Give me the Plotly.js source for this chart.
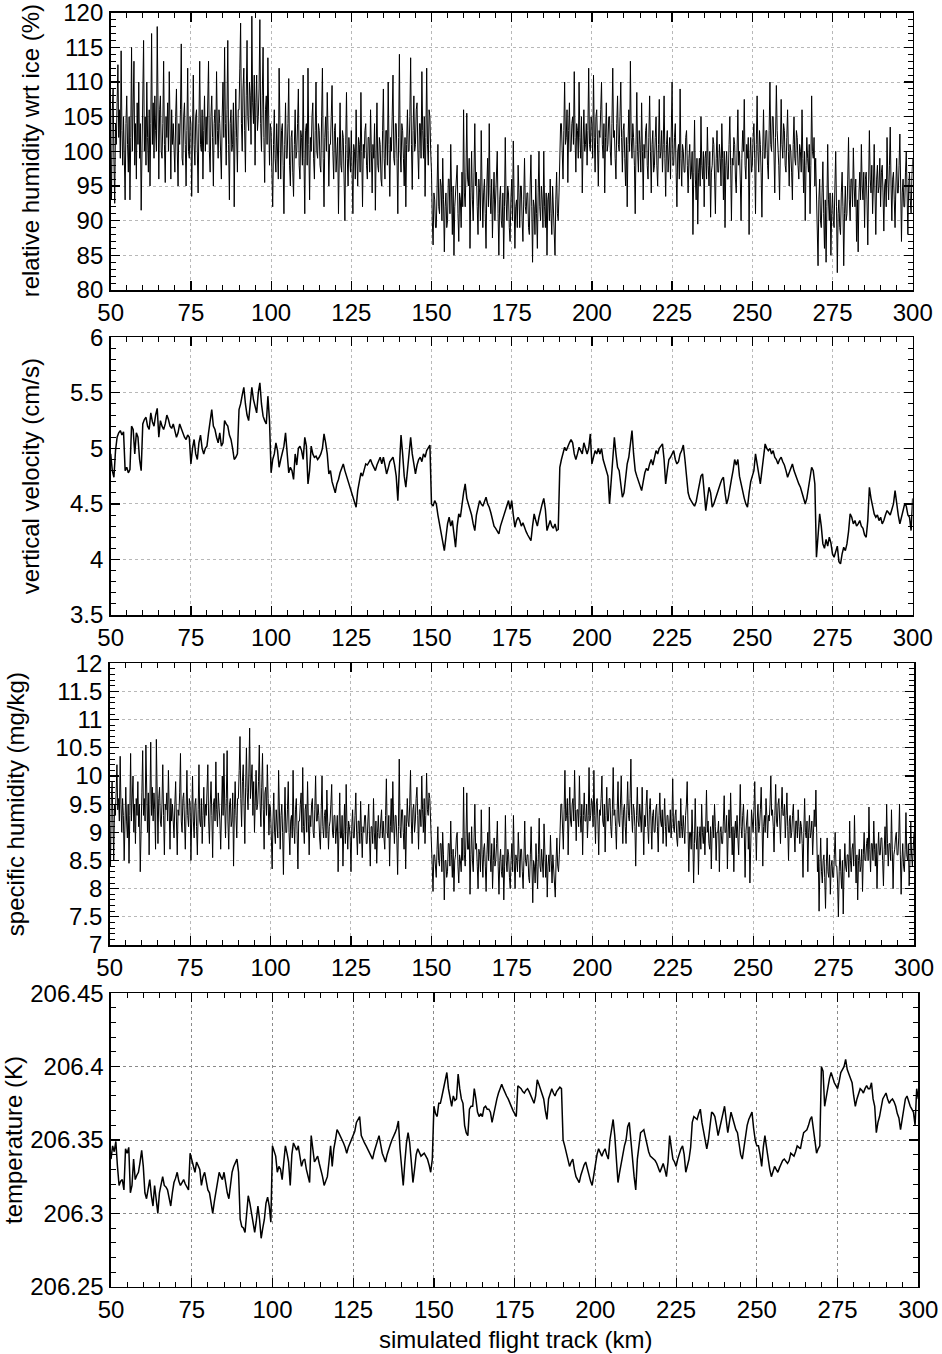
<!DOCTYPE html>
<html>
<head>
<meta charset="utf-8">
<script src="https://cdn.plot.ly/plotly-3.0.1.min.js"></script>
<style>
  html, body { margin: 0; padding: 0; background: #fff; }
  #plot { width: 942px; height: 1354px; }
</style>
</head>
<body>
<div id="plot"></div>
<script>
// flight track (km): the noisy humidity series are read every 0.25 km, the smooth ones every 0.5 km, from 50 to 300
const trackStart = 50;
const noisyStep = 0.25;
const smoothStep = 0.5;
const trackTicks = [50, 75, 100, 125, 150, 175, 200, 225, 250, 275, 300];

// relative humidity wrt ice (%)
const rhIce = [
  100, 93, 106, 109, 99, 92.5, 104, 101, 107, 112.5, 102, 106, 99, 114.5, 103, 98, 105, 100, 93, 104,
  108, 101, 97, 105, 93, 102, 115, 100, 106, 113, 98, 104, 96, 107, 101, 110, 99, 104, 91.5, 102,
  106, 116, 100, 105, 98, 110, 102, 97, 106, 95, 104, 117, 101, 107, 99, 108, 103, 100, 118, 104,
  96, 106, 108, 100, 99, 104, 113, 101, 95.5, 105, 102, 107, 100, 111.5, 103, 96, 106, 101, 104, 99,
  97, 105, 109, 100, 95, 104, 101, 106, 115.5, 99, 98, 105, 107, 101, 95, 103, 112, 100, 99, 105,
  104, 93.5, 102, 111, 101, 98, 105, 106, 100, 94, 104, 113, 101, 100, 106, 96, 103, 108, 100, 105,
  101, 108, 113, 100, 97, 105, 108, 102, 95, 104, 106, 101, 111.5, 103, 99, 106, 104, 100, 96, 105,
  110, 102, 115, 104, 98, 106, 116, 101, 93, 104, 106, 100, 101, 107, 92, 103, 109, 102, 97, 106,
  106, 112, 118.5, 104, 100, 109, 112, 103, 97, 108, 116, 105, 103, 110, 108, 101, 119.5, 107, 104, 111,
  98, 107, 111, 103, 105, 109, 119, 104, 100, 108, 115, 102, 95.5, 106, 108, 101, 113.5, 105, 98, 104,
  103, 97, 92, 101, 106, 99, 97, 104, 101, 96, 112, 100, 96, 103, 104, 98, 91, 101, 107, 99,
  99, 104, 110.5, 98, 95, 102, 103, 97, 93.5, 101, 106, 99, 100, 104, 109, 98, 96, 103, 102, 98,
  111, 99, 91, 103, 104, 98, 112, 101, 93, 102, 100, 105, 107, 99, 96, 103, 110, 100, 99, 104,
  103, 98, 97, 105, 112, 99, 92, 102, 105, 100, 108.5, 103, 95, 101, 101, 105, 109.5, 100, 96, 103,
  104, 97, 99, 102, 91, 100, 107, 98, 97, 103, 102, 96, 90, 101, 108.5, 99, 95, 102, 100, 97,
  103, 97, 91, 101, 100, 96, 106, 99, 95, 102, 101, 97, 108.5, 100, 92, 101, 99, 103, 104, 98,
  96, 102, 102, 97, 106, 100, 94, 101, 99, 104, 91.5, 100, 107, 98, 97, 102, 101, 96, 95, 103,
  109, 99, 96, 103, 103, 98, 110, 101, 93.5, 102, 100, 105, 111, 99, 98, 104, 104, 99, 91, 102,
  114, 100, 97, 104, 103, 99, 95, 102, 92, 101, 106, 100, 100, 105, 113.5, 101, 94.5, 103, 108, 100,
  101, 106, 107, 100, 96, 104, 104, 99, 111.5, 103, 99, 105, 93.5, 102, 112, 101, 98, 106, 105, 100,
  97, 90, 86.5, 94, 93, 89, 89, 95, 101, 92, 91, 96, 95, 90, 99, 93, 85.5, 92, 94, 89,
  90, 96, 96, 91, 101, 94, 88, 95, 85, 92, 94, 97, 98, 91, 87, 94, 93, 89, 97, 92,
  106, 94, 92, 97, 105.5, 96, 95, 99, 86, 94, 100, 93, 90, 97, 104, 95, 97, 92, 88, 96,
  94, 90, 103, 95, 89, 94, 96, 91, 86, 95, 99, 92, 104, 94, 91, 96, 87.5, 93, 97, 90,
  93, 96, 100, 91, 85, 93, 95, 90, 89, 94, 84.5, 92, 102, 93, 90, 95, 94, 89, 87, 93,
  96, 90, 101.5, 93, 86, 92, 93, 89, 98, 94, 89, 95, 95, 90, 87, 93, 99, 92, 91, 94,
  94, 89, 88, 95, 99.5, 92, 84, 93, 92, 88, 96, 91, 86, 94, 100, 92, 90, 95, 93, 89,
  100, 92, 89, 94, 85, 93, 94, 90, 96, 91, 88, 95, 92, 89, 85, 93, 97, 91, 90, 94,
  99, 104, 104, 100, 96, 103, 110, 101, 102, 106, 95.5, 103, 107, 100, 100, 104, 105, 101, 111.5, 102,
  97, 104, 103, 99, 110, 102, 99, 105, 94, 101, 106, 100, 101, 104, 98, 103, 112, 101, 100, 105,
  104, 99, 111, 102, 97, 105, 106, 101, 95, 103, 102, 106, 110, 101, 99, 104, 94, 102, 107, 100,
  101, 105, 105, 100, 98, 104, 112, 102, 103, 99, 96, 104, 108, 101, 100, 105, 110, 102, 97, 103,
  104, 99, 95, 102, 92, 101, 106, 100, 113, 102, 99, 104, 102, 98, 91, 101, 108.5, 100, 97, 103,
  101, 97, 107, 100, 93, 101, 99, 103, 104, 98, 96, 102, 108, 100, 94, 101, 103, 97, 98, 102,
  105, 98, 95, 101, 107.5, 99, 100, 103, 97, 101, 108, 99, 93.5, 101, 103, 97, 99, 102, 96, 101,
  110, 98, 98, 102, 104, 97, 92, 100, 101, 96, 109, 99, 95, 101, 100, 97, 97, 102, 103, 98,
  94, 99, 101, 96, 97, 100, 88, 97, 104.5, 96, 93, 99, 89.5, 97, 99, 95, 105, 98, 96, 100,
  92, 99, 100, 96, 103.5, 98, 95, 100, 90.5, 97, 98, 102, 101, 96, 91, 99, 103, 97, 97, 101,
  99, 95, 104, 99, 93, 100, 89, 98, 100, 96, 96, 101, 105, 98, 90, 99, 98, 102, 101, 96,
  94, 100, 106, 98, 100, 96, 90, 99, 103, 100, 107.5, 98, 96, 101, 99, 102, 88, 99, 102, 97,
  98, 102, 104, 99, 91, 101, 108, 100, 97, 103, 101, 97, 90.5, 100, 106, 99, 99, 103, 103, 98,
  96, 103, 110, 101, 100, 105, 105, 100, 94, 102, 109.5, 103, 101, 98, 93, 102, 107.5, 101, 99, 104,
  103, 98, 97, 102, 106, 100, 95, 101, 100, 97, 93, 101, 105, 99, 98, 103, 102, 98, 96, 101,
  100, 97, 106, 99, 94, 100, 90, 98, 102, 99, 97, 101, 91, 98, 108, 100, 99, 102, 95, 99,
  92, 88, 83.5, 93, 96, 90, 89, 94, 98.5, 91, 86, 93, 84, 92, 101, 93, 90, 94, 85, 91,
  94, 90, 89, 95, 100, 92, 82.5, 91, 93, 89, 88, 94, 97, 92, 83.5, 91, 95, 90, 91, 96,
  102, 93, 90, 96, 96, 92, 100.5, 95, 92, 96, 87, 93, 85.5, 94, 97, 93, 101, 95, 93, 97,
  89, 96, 97, 93, 86.5, 95, 103, 96, 94, 98, 91, 95, 101, 94, 88, 96, 98, 94, 95, 99,
  92, 97, 98, 94, 88.5, 95, 96, 92, 102, 96, 93, 98, 103.5, 95, 90, 96, 97, 93, 89, 95,
  99, 94, 94, 98, 102.5, 95, 87, 94, 96, 92, 92, 97, 100, 94, 88, 95, 97, 93, 91, 96,
  99
];

// vertical velocity (cm/s)
const vertVel = [
  4.95, 4.80, 4.74, 4.98, 5.10, 5.14, 5.16, 5.12, 5.15, 4.80,
  4.83, 4.78, 4.81, 5.20, 5.17, 4.95, 5.14, 5.10, 4.90, 4.80,
  5.22, 5.26, 5.28, 5.20, 5.17, 5.32, 5.24, 5.20, 5.30, 5.36,
  5.10, 5.25, 5.20, 5.17, 5.22, 5.30, 5.26, 5.20, 5.18, 5.22,
  5.16, 5.10, 5.14, 5.22, 5.18, 5.14, 5.10, 5.08, 5.12, 5.10,
  4.86, 5.00, 5.08, 4.95, 4.90, 5.05, 5.12, 5.00, 4.95, 5.00,
  5.02, 5.14, 5.25, 5.35, 5.20, 5.17, 5.10, 5.05, 5.14, 5.02,
  5.05, 5.25, 5.22, 5.20, 5.12, 5.08, 5.00, 4.90, 4.92, 4.95,
  5.35, 5.40, 5.48, 5.55, 5.40, 5.30, 5.25, 5.40, 5.55, 5.44,
  5.38, 5.32, 5.50, 5.59, 5.40, 5.29, 5.25, 5.22, 5.47, 5.25,
  4.78, 4.90, 4.95, 5.05, 4.98, 4.83, 4.90, 4.95, 5.02, 5.14,
  4.95, 4.78, 4.83, 4.80, 4.72, 4.95, 4.85, 5.00, 5.02, 4.98,
  4.90, 5.10, 5.02, 4.68, 4.80, 5.02, 4.95, 4.92, 4.93, 4.90,
  4.92, 4.95, 5.00, 5.13, 5.05, 4.95, 4.77, 4.80, 4.70, 4.65,
  4.60, 4.68, 4.72, 4.78, 4.82, 4.86, 4.80, 4.75, 4.72, 4.65,
  4.60, 4.55, 4.50, 4.47, 4.62, 4.72, 4.78, 4.75, 4.82, 4.86,
  4.85, 4.88, 4.90, 4.86, 4.83, 4.80, 4.85, 4.88, 4.92, 4.86,
  4.92, 4.85, 4.77, 4.82, 4.88, 4.90, 4.92, 4.85, 4.75, 4.53,
  4.90, 5.12, 4.95, 4.75, 4.65, 4.80, 4.95, 5.10, 4.95, 4.85,
  4.77, 4.85, 4.90, 4.92, 4.88, 4.95, 4.92, 4.98, 5.00, 5.03,
  4.50, 4.48, 4.53, 4.50, 4.40, 4.32, 4.25, 4.18, 4.08, 4.20,
  4.32, 4.38, 4.30, 4.35, 4.25, 4.11, 4.30, 4.41, 4.38, 4.50,
  4.60, 4.68, 4.55, 4.50, 4.45, 4.40, 4.32, 4.26, 4.40, 4.48,
  4.53, 4.50, 4.48, 4.52, 4.56, 4.50, 4.47, 4.42, 4.35, 4.30,
  4.28, 4.25, 4.23, 4.30, 4.35, 4.40, 4.45, 4.48, 4.53, 4.45,
  4.53, 4.40, 4.29, 4.35, 4.38, 4.35, 4.30, 4.33, 4.28, 4.25,
  4.22, 4.20, 4.17, 4.30, 4.41, 4.35, 4.30, 4.38, 4.45, 4.50,
  4.55, 4.45, 4.26, 4.30, 4.35, 4.30, 4.28, 4.32, 4.26, 4.27,
  4.83, 4.90, 4.95, 5.01, 4.98, 5.02, 5.05, 5.08, 5.05, 4.95,
  4.90, 4.95, 5.01, 4.98, 4.95, 5.05, 5.00, 4.95, 5.00, 5.13,
  4.86, 4.92, 4.98, 4.95, 5.00, 4.95, 5.00, 4.90, 4.85, 4.80,
  4.75, 4.50, 4.70, 4.90, 5.10, 4.95, 4.83, 4.80, 4.70, 4.56,
  4.60, 4.75, 4.86, 4.92, 5.05, 5.16, 4.95, 4.80, 4.75, 4.70,
  4.65, 4.62, 4.70, 4.78, 4.82, 4.80, 4.86, 4.90, 4.85, 4.92,
  4.98, 4.95, 5.00, 5.02, 5.04, 4.90, 4.68, 4.80, 4.90, 4.92,
  4.95, 4.98, 4.90, 4.86, 4.88, 4.95, 4.98, 5.03, 4.90, 4.77,
  4.60, 4.55, 4.52, 4.50, 4.48, 4.52, 4.60, 4.68, 4.75, 4.77,
  4.60, 4.44, 4.55, 4.65, 4.60, 4.47, 4.50, 4.55, 4.60, 4.65,
  4.68, 4.72, 4.74, 4.60, 4.50, 4.55, 4.65, 4.72, 4.80, 4.90,
  4.85, 4.90, 4.75, 4.68, 4.60, 4.55, 4.50, 4.47, 4.60, 4.70,
  4.75, 4.80, 4.95, 4.85, 4.75, 4.68, 4.80, 4.90, 5.04, 5.00,
  4.98, 5.00, 4.95, 4.98, 4.92, 4.90, 4.86, 4.90, 4.92, 4.88,
  4.85, 4.80, 4.74, 4.78, 4.82, 4.86, 4.80, 4.75, 4.72, 4.68,
  4.65, 4.60, 4.55, 4.50, 4.55, 4.65, 4.75, 4.83, 4.80, 4.68,
  4.02, 4.20, 4.41, 4.30, 4.14, 4.10, 4.18, 4.12, 4.20, 4.15,
  4.05, 4.02, 4.08, 4.12, 3.98, 3.96, 4.05, 4.11, 4.08, 4.14,
  4.25, 4.41, 4.38, 4.32, 4.35, 4.30, 4.32, 4.35, 4.30, 4.28,
  4.22, 4.20, 4.35, 4.65, 4.55, 4.48, 4.41, 4.38, 4.40, 4.35,
  4.38, 4.32, 4.35, 4.40, 4.44, 4.42, 4.40, 4.45, 4.50, 4.62,
  4.50, 4.40, 4.32, 4.38, 4.45, 4.50, 4.48, 4.40, 4.38, 4.26,
  4.55
];

// specific humidity (mg/kg)
const specHum = [
  9.1, 8.4, 9.6, 9.9, 9.2, 8.5, 9.5, 9.3, 9.7, 10.2, 9.4, 9.6, 9.2, 10.35, 9.5, 9.0, 9.6, 9.3, 8.5, 9.4,
  9.8, 9.2, 8.9, 9.5, 8.45, 9.3, 10.4, 9.2, 9.6, 10.0, 9.0, 9.5, 8.8, 9.6, 9.3, 9.9, 9.1, 9.5, 8.3, 9.4,
  9.7, 10.45, 9.3, 9.6, 9.2, 10.55, 9.4, 9.0, 9.7, 8.6, 9.5, 10.6, 9.3, 9.8, 9.2, 9.7, 9.4, 8.7, 10.65, 9.5,
  8.8, 9.6, 9.8, 9.2, 9.1, 9.5, 10.2, 9.3, 8.6, 9.5, 9.4, 9.7, 9.2, 10.1, 9.4, 8.7, 9.6, 9.2, 9.5, 9.1,
  8.9, 9.5, 9.9, 9.2, 8.6, 9.4, 9.3, 9.7, 10.4, 9.2, 9.0, 9.6, 9.7, 9.2, 8.7, 9.4, 10.1, 9.3, 9.1, 9.6,
  9.5, 8.5, 9.3, 10.0, 9.2, 8.9, 9.5, 9.6, 9.1, 8.6, 9.4, 10.2, 9.2, 9.1, 9.6, 8.8, 9.3, 9.8, 9.1, 9.5,
  9.3, 9.7, 10.2, 9.2, 8.8, 9.5, 9.9, 9.3, 8.55, 9.5, 9.6, 9.2, 10.25, 9.4, 9.1, 9.7, 9.5, 9.2, 8.7, 9.6,
  10.0, 9.3, 10.4, 9.5, 8.9, 9.6, 10.45, 9.2, 8.7, 9.5, 9.6, 9.1, 9.2, 9.7, 8.4, 9.4, 9.9, 9.3, 8.9, 9.6,
  9.6, 10.1, 10.7, 9.6, 9.1, 9.9, 10.2, 9.5, 8.8, 9.8, 10.5, 9.7, 9.4, 10.0, 10.85, 9.6, 9.9, 10.2, 9.3, 9.9,
  9.0, 9.7, 10.1, 9.4, 9.5, 9.9, 10.55, 9.5, 9.1, 9.8, 10.4, 9.4, 8.7, 9.7, 9.8, 9.3, 10.2, 9.6, 8.95, 9.5,
  9.4, 8.9, 8.35, 9.2, 9.7, 9.0, 8.8, 9.4, 9.2, 8.9, 10.1, 9.1, 8.7, 9.3, 9.5, 9.0, 8.25, 9.2, 9.8, 9.0,
  9.0, 9.4, 9.9, 9.0, 8.6, 9.2, 9.3, 8.9, 10.1, 9.1, 8.8, 9.4, 9.6, 9.0, 8.35, 9.2, 9.2, 9.5, 9.7, 9.0,
  10.15, 9.1, 8.8, 9.4, 9.5, 9.0, 9.9, 9.2, 8.6, 9.3, 9.1, 9.5, 9.6, 9.0, 8.9, 9.4, 10.0, 9.2, 9.2, 9.5,
  9.3, 8.9, 8.7, 9.4, 10.0, 9.1, 8.9, 9.3, 9.4, 8.9, 9.75, 9.2, 8.7, 9.1, 9.2, 9.5, 9.85, 9.0, 8.9, 9.3,
  9.3, 8.8, 9.0, 9.3, 8.3, 9.0, 9.7, 8.9, 8.9, 9.3, 8.4, 9.0, 9.5, 8.8, 9.85, 9.1, 8.7, 9.2, 9.1, 8.9,
  8.3, 9.1, 9.4, 8.9, 8.9, 9.3, 9.7, 9.0, 8.6, 9.2, 9.2, 8.8, 9.55, 9.0, 8.55, 9.1, 9.0, 9.3, 9.3, 8.8,
  8.8, 9.2, 9.5, 8.9, 8.4, 9.1, 9.1, 8.8, 9.6, 9.0, 8.7, 9.2, 8.45, 9.0, 9.3, 8.9, 8.9, 9.2, 9.4, 8.9,
  9.2, 8.9, 8.7, 9.3, 9.95, 9.0, 8.9, 9.3, 8.4, 9.1, 9.6, 9.0, 9.9, 9.2, 8.8, 9.3, 9.3, 8.9, 8.25, 9.1,
  10.3, 9.1, 8.9, 9.4, 9.4, 9.0, 8.7, 9.3, 8.35, 9.1, 9.6, 9.2, 9.1, 9.5, 10.1, 9.2, 8.8, 9.4, 9.5, 9.0,
  9.2, 9.6, 9.8, 9.3, 8.7, 9.4, 9.4, 9.1, 10.0, 9.4, 9.0, 9.6, 8.8, 9.3, 10.05, 9.4, 9.3, 9.7, 9.6, 9.2,
  8.9, 8.4, 7.95, 8.6, 8.6, 8.3, 8.2, 8.7, 9.1, 8.5, 8.4, 8.8, 8.8, 8.3, 9.0, 8.6, 7.8, 8.5, 8.5, 8.2,
  8.3, 8.8, 8.8, 8.4, 9.2, 8.6, 8.2, 8.7, 7.95, 8.5, 8.6, 8.9, 9.0, 8.4, 8.1, 8.6, 8.5, 8.3, 8.9, 8.5,
  9.8, 8.6, 8.4, 8.9, 9.7, 8.7, 8.7, 9.0, 7.9, 8.6, 9.1, 8.5, 8.3, 8.9, 9.5, 8.7, 8.8, 8.4, 8.0, 8.7,
  8.6, 8.3, 9.4, 8.6, 8.2, 8.7, 8.8, 8.4, 7.95, 8.6, 9.0, 8.5, 9.45, 8.6, 8.3, 8.8, 8.0, 8.5, 8.9, 8.4,
  8.5, 8.8, 9.2, 8.4, 7.9, 8.5, 8.7, 8.3, 8.2, 8.6, 7.8, 8.4, 9.3, 8.5, 8.3, 8.7, 8.6, 8.2, 8.0, 8.5,
  8.8, 8.3, 9.3, 8.5, 8.0, 8.6, 8.5, 8.3, 9.0, 8.6, 8.2, 8.7, 8.7, 8.3, 8.0, 8.5, 9.2, 8.5, 8.4, 8.6,
  8.6, 8.2, 8.1, 8.6, 9.1, 8.4, 7.75, 8.5, 8.4, 8.1, 8.8, 8.4, 8.0, 8.6, 9.25, 8.4, 8.3, 8.7, 8.5, 8.2,
  9.15, 8.5, 8.2, 8.6, 7.85, 8.4, 8.6, 8.3, 8.95, 8.5, 8.1, 8.6, 8.4, 8.2, 7.85, 8.5, 8.9, 8.4, 8.3, 8.6,
  9.0, 9.5, 9.5, 9.1, 8.7, 9.4, 10.1, 9.2, 9.3, 9.6, 8.6, 9.3, 9.8, 9.2, 9.1, 9.5, 9.6, 9.2, 10.1, 9.4,
  8.85, 9.4, 9.4, 9.1, 10.0, 9.3, 9.0, 9.5, 8.6, 9.3, 9.7, 9.2, 9.2, 9.5, 8.9, 9.3, 10.15, 9.2, 9.3, 9.6,
  9.5, 9.1, 10.1, 9.3, 8.8, 9.5, 9.6, 9.2, 8.6, 9.4, 9.3, 9.6, 10.0, 9.2, 9.1, 9.5, 8.65, 9.3, 9.8, 9.2,
  9.2, 9.6, 9.6, 9.1, 8.9, 9.4, 10.15, 9.3, 9.4, 9.1, 8.7, 9.4, 9.9, 9.2, 9.1, 9.5, 10.0, 9.3, 8.8, 9.4,
  9.5, 9.1, 8.8, 9.4, 9.9, 9.3, 9.2, 9.6, 10.3, 9.3, 9.0, 9.5, 9.4, 9.1, 8.4, 9.3, 9.8, 9.2, 9.1, 9.5,
  9.3, 9.0, 9.8, 9.3, 8.6, 9.3, 9.1, 9.5, 9.75, 9.1, 8.8, 9.4, 9.6, 9.2, 8.7, 9.3, 9.4, 9.0, 9.0, 9.4,
  9.5, 9.1, 8.65, 9.3, 9.7, 9.2, 9.1, 9.4, 8.8, 9.2, 9.6, 9.1, 8.75, 9.3, 9.3, 9.0, 9.0, 9.4, 8.9, 9.2,
  9.95, 9.1, 9.0, 9.3, 9.4, 8.9, 8.75, 9.2, 9.2, 8.9, 9.6, 9.1, 8.9, 9.3, 9.1, 8.8, 9.3, 9.5, 9.9, 9.1,
  8.3, 9.0, 9.0, 8.7, 9.4, 8.9, 8.1, 8.8, 9.6, 8.9, 8.7, 9.1, 8.25, 8.9, 9.1, 8.7, 9.5, 9.0, 8.8, 9.1,
  8.6, 9.1, 9.75, 9.0, 9.2, 8.8, 8.7, 9.1, 8.35, 9.0, 9.3, 8.9, 9.5, 9.1, 8.5, 9.0, 9.0, 9.2, 8.3, 9.0,
  9.1, 8.8, 8.8, 9.2, 9.65, 9.0, 9.0, 9.3, 8.35, 9.0, 9.4, 8.9, 9.7, 9.1, 8.6, 9.1, 8.3, 9.0, 9.2, 8.9,
  9.3, 8.9, 8.6, 9.2, 9.85, 9.1, 8.9, 9.3, 9.5, 9.0, 8.2, 9.0, 9.2, 9.4, 8.7, 9.1, 8.1, 9.0, 9.4, 9.2,
  9.0, 9.4, 9.9, 9.1, 8.5, 9.2, 9.5, 9.0, 9.1, 9.4, 9.8, 9.2, 8.4, 9.1, 9.3, 9.0, 9.6, 9.3, 8.9, 9.3,
  9.2, 9.5, 10.0, 9.3, 9.4, 9.1, 8.65, 9.3, 9.85, 9.2, 9.1, 9.5, 9.6, 9.2, 8.8, 9.4, 9.8, 9.3, 9.3, 9.5,
  8.9, 9.3, 9.7, 9.1, 8.5, 9.2, 9.3, 8.9, 9.0, 9.3, 9.5, 9.0, 8.65, 9.2, 9.2, 8.9, 9.4, 9.1, 8.8, 9.2,
  9.1, 8.8, 8.2, 9.0, 9.6, 9.0, 8.9, 9.2, 8.3, 9.0, 9.3, 8.9, 9.0, 9.2, 8.6, 9.0, 9.4, 9.1, 9.75, 9.0,
  8.3, 8.6, 7.6, 8.4, 8.9, 8.3, 8.1, 8.5, 8.6, 8.2, 7.65, 8.4, 8.9, 8.3, 8.2, 8.6, 7.9, 8.4, 8.5, 8.2,
  8.2, 8.6, 9.0, 8.4, 8.4, 8.1, 7.5, 8.3, 8.7, 8.3, 8.0, 8.5, 7.55, 8.3, 8.8, 8.4, 8.3, 8.6, 8.6, 8.2,
  9.2, 8.5, 8.3, 8.7, 8.8, 8.4, 9.3, 8.6, 8.1, 8.6, 7.8, 8.5, 8.7, 8.3, 8.4, 8.7, 7.95, 8.6, 9.0, 8.5,
  8.5, 8.8, 8.9, 8.5, 9.45, 8.7, 8.3, 8.8, 8.8, 8.5, 9.2, 8.7, 8.4, 8.8, 8.0, 8.6, 9.0, 8.6, 8.6, 8.9,
  8.9, 8.5, 8.05, 8.7, 9.1, 8.6, 9.5, 8.8, 8.4, 8.8, 8.8, 8.5, 9.4, 8.7, 8.0, 8.6, 8.7, 8.9, 9.0, 8.6,
  8.6, 8.9, 9.5, 8.6, 7.9, 8.5, 8.8, 8.4, 8.3, 8.7, 9.35, 8.6, 8.5, 8.8, 8.05, 8.5, 9.2, 8.6, 8.4, 8.7,
  9.0
];

// temperature (K)
const temperature = [
  206.337, 206.346, 206.342, 206.349, 206.332, 206.319, 206.322, 206.323, 206.316, 206.344,
  206.341, 206.345, 206.314, 206.319, 206.337, 206.323, 206.326, 206.328, 206.335, 206.343,
  206.332, 206.314, 206.310, 206.316, 206.323, 206.312, 206.305, 206.319, 206.310, 206.300,
  206.314, 206.320, 206.325, 206.319, 206.318, 206.316, 206.310, 206.305, 206.314, 206.321,
  206.324, 206.328, 206.322, 206.319, 206.321, 206.323, 206.320, 206.318, 206.316, 206.341,
  206.337, 206.332, 206.328, 206.335, 206.333, 206.330, 206.319, 206.325, 206.328, 206.322,
  206.316, 206.314, 206.305, 206.300, 206.308, 206.314, 206.320, 206.328, 206.325, 206.323,
  206.328, 206.320, 206.314, 206.310, 206.318, 206.328, 206.332, 206.335, 206.337, 206.328,
  206.296, 206.291, 206.290, 206.287, 206.300, 206.312, 206.307, 206.300, 206.296, 206.287,
  206.295, 206.305, 206.296, 206.283, 206.290, 206.296, 206.307, 206.311, 206.305, 206.294,
  206.346, 206.342, 206.339, 206.328, 206.332, 206.330, 206.323, 206.335, 206.346, 206.341,
  206.335, 206.319, 206.340, 206.348, 206.346, 206.343, 206.346, 206.340, 206.332, 206.336,
  206.337, 206.330, 206.325, 206.321, 206.353, 206.345, 206.335, 206.337, 206.339, 206.334,
  206.330, 206.325, 206.319, 206.322, 206.325, 206.335, 206.346, 206.332, 206.344, 206.350,
  206.357, 206.355, 206.353, 206.350, 206.348, 206.345, 206.341, 206.345, 206.348, 206.350,
  206.353, 206.356, 206.362, 206.364, 206.366, 206.353, 206.350, 206.348, 206.346, 206.344,
  206.341, 206.339, 206.337, 206.342, 206.346, 206.350, 206.353, 206.347, 206.341, 206.338,
  206.335, 206.340, 206.344, 206.347, 206.350, 206.352, 206.355, 206.358, 206.363, 206.344,
  206.330, 206.319, 206.335, 206.348, 206.355, 206.348, 206.335, 206.321, 206.330, 206.340,
  206.344, 206.341, 206.339, 206.340, 206.341, 206.339, 206.337, 206.333, 206.328, 206.337,
  206.373, 206.368, 206.366, 206.375, 206.375, 206.380, 206.385, 206.390, 206.396, 206.385,
  206.378, 206.373, 206.380, 206.377, 206.378, 206.395, 206.385, 206.378, 206.375, 206.360,
  206.355, 206.353, 206.371, 206.373, 206.373, 206.385, 206.378, 206.369, 206.366, 206.368,
  206.366, 206.372, 206.373, 206.371, 206.371, 206.369, 206.362, 206.368, 206.373, 206.378,
  206.382, 206.385, 206.388, 206.385, 206.382, 206.380, 206.378, 206.375, 206.373, 206.370,
  206.368, 206.366, 206.387, 206.386, 206.385, 206.383, 206.382, 206.384, 206.385, 206.383,
  206.380, 206.378, 206.375, 206.380, 206.391, 206.388, 206.385, 206.382, 206.378, 206.370,
  206.364, 206.378, 206.382, 206.385, 206.382, 206.380, 206.383, 206.385, 206.386, 206.385,
  206.350, 206.346, 206.341, 206.336, 206.332, 206.335, 206.337, 206.330, 206.325, 206.323,
  206.321, 206.326, 206.330, 206.333, 206.335, 206.330, 206.325, 206.322, 206.319, 206.327,
  206.335, 206.340, 206.344, 206.342, 206.339, 206.342, 206.344, 206.340, 206.337, 206.350,
  206.358, 206.364, 206.353, 206.338, 206.321, 206.328, 206.335, 206.340, 206.346, 206.350,
  206.359, 206.362, 206.348, 206.340, 206.325, 206.316, 206.337, 206.346, 206.355, 206.356,
  206.357, 206.352, 206.346, 206.342, 206.339, 206.338, 206.337, 206.336, 206.334, 206.331,
  206.328, 206.331, 206.334, 206.330, 206.325, 206.335, 206.353, 206.345, 206.337, 206.335,
  206.332, 206.337, 206.341, 206.344, 206.346, 206.340, 206.328, 206.332, 206.337, 206.345,
  206.362, 206.366, 206.365, 206.364, 206.368, 206.371, 206.362, 206.355, 206.350, 206.344,
  206.350, 206.360, 206.369, 206.368, 206.366, 206.360, 206.353, 206.358, 206.364, 206.368,
  206.373, 206.362, 206.355, 206.362, 206.369, 206.365, 206.360, 206.357, 206.355, 206.346,
  206.340, 206.337, 206.346, 206.355, 206.360, 206.364, 206.367, 206.369, 206.358, 206.350,
  206.346, 206.346, 206.340, 206.332, 206.345, 206.353, 206.345, 206.337, 206.330, 206.325,
  206.328, 206.332, 206.330, 206.328, 206.331, 206.334, 206.336, 206.337, 206.335, 206.334,
  206.336, 206.341, 206.340, 206.339, 206.342, 206.346, 206.345, 206.344, 206.350, 206.355,
  206.356, 206.357, 206.360, 206.364, 206.366, 206.358, 206.350, 206.341, 206.344, 206.346,
  206.400, 206.397, 206.373, 206.380, 206.385, 206.392, 206.396, 206.392, 206.389, 206.387,
  206.385, 206.390, 206.396, 206.398, 206.400, 206.405, 206.398, 206.395, 206.392, 206.389,
  206.380, 206.373, 206.378, 206.382, 206.385, 206.384, 206.382, 206.385, 206.387, 206.385,
  206.385, 206.389, 206.378, 206.373, 206.355, 206.362, 206.366, 206.372, 206.378, 206.380,
  206.382, 206.378, 206.375, 206.377, 206.378, 206.376, 206.373, 206.368, 206.365, 206.357,
  206.365, 206.373, 206.378, 206.380, 206.376, 206.373, 206.371, 206.369, 206.360, 206.385,
  206.378
];

const W = 942, H = 1354;
const fontFamily = 'Liberation Sans, Arial, Helvetica, sans-serif';
const fontSize = 24;

// panel boxes in pixels: left, right, top, bottom
const panels = [
  {y: rhIce,       dx: noisyStep,  l: 110.7, r: 912.7, t: 12.7,  b: 290,    range: [80, 120],        dtick: 5,    minor: 1,    title: 'relative humidity wrt ice (%)', tx: 30, lw: 1.0, grid: '#b8b8b8'},
  {y: vertVel,     dx: smoothStep, l: 110.7, r: 912.7, t: 337.3, b: 615,    range: [3.5, 6],         dtick: 0.5,  minor: 0.1,  title: 'vertical velocity (cm/s)',      tx: 30, lw: 1.5, grid: '#b8b8b8'},
  {y: specHum,     dx: noisyStep,  l: 109.7, r: 914,   t: 663.3, b: 945,    range: [7, 12],          dtick: 0.5,  minor: 0.1,  title: 'specific humidity (mg/kg)',     tx: 15, lw: 1.0, grid: '#b8b8b8'},
  {y: temperature, dx: smoothStep, l: 111,   r: 918.3, t: 993.3, b: 1286.7, range: [206.25, 206.45], dtick: 0.05, minor: 0.01, title: 'temperature (K)',               tx: 13, lw: 1.5, grid: '#8a8a8a'}
];

function axisStyle(grid) {
  return {
    showline: true,
    linecolor: '#000',
    linewidth: 1.6,
    mirror: 'allticks',
    ticks: 'inside',
    ticklen: 9,
    tickwidth: 1.2,
    tickcolor: '#000',
    zeroline: false,
    showgrid: true,
    gridcolor: grid,
    griddash: 'dot',
    gridwidth: 1,
    tickfont: {family: fontFamily, size: fontSize, color: '#000'},
    ticklabelstandoff: 1,
    ticklabeloverflow: 'allow'
  };
}

let traces = [];
let layout = {
  width: W,
  height: H,
  margin: {l: 0, r: 0, t: 0, b: 0},
  paper_bgcolor: '#fff',
  plot_bgcolor: '#fff',
  showlegend: false,
  font: {family: fontFamily, size: fontSize, color: '#000'},
  annotations: []
};

for (let i = 0; i < panels.length; i++) {
  const p = panels[i];
  const n = i === 0 ? '' : String(i + 1);

  traces.push({
    type: 'scatter',
    mode: 'lines',
    x0: trackStart,
    dx: p.dx,
    y: p.y,
    xaxis: 'x' + n,
    yaxis: 'y' + n,
    line: {color: '#000', width: p.lw},
    hoverinfo: 'skip'
  });

  layout['xaxis' + n] = Object.assign(axisStyle(p.grid), {
    domain: [p.l / W, p.r / W],
    anchor: 'y' + n,
    range: [trackTicks[0], trackTicks[trackTicks.length - 1]],
    tickmode: 'array',
    tickvals: trackTicks,
    ticktext: trackTicks.map(String),
    minor: {dtick: 5, ticks: 'inside', ticklen: 5, tickwidth: 1, tickcolor: '#000', showgrid: false}
  });

  layout['yaxis' + n] = Object.assign(axisStyle(p.grid), {
    domain: [1 - p.b / H, 1 - p.t / H],
    anchor: 'x' + n,
    range: p.range,
    tick0: p.range[0],
    dtick: p.dtick,
    minor: {dtick: p.minor, ticks: 'inside', ticklen: 5, tickwidth: 1, tickcolor: '#000', showgrid: false}
  });

  // y titles as annotations so they sit where the original has them
  layout.annotations.push({
    text: p.title,
    xref: 'paper', yref: 'paper',
    x: p.tx / W,
    y: 1 - (p.t + p.b) / 2 / H,
    xanchor: 'center', yanchor: 'middle',
    textangle: -90,
    showarrow: false,
    font: {family: fontFamily, size: fontSize, color: '#000'}
  });
}

layout.annotations.push({
  text: 'simulated flight track (km)',
  xref: 'paper', yref: 'paper',
  x: 515 / W,
  y: 1 - 1339 / H,
  xanchor: 'center', yanchor: 'middle',
  showarrow: false,
  font: {family: fontFamily, size: fontSize, color: '#000'}
});

Plotly.newPlot('plot', traces, layout, {staticPlot: true, displayModeBar: false});
</script>
</body>
</html>
